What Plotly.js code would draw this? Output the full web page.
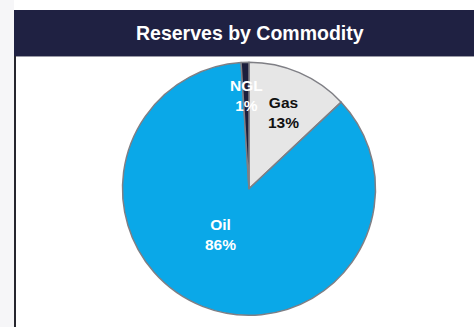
<!DOCTYPE html>
<html>
<head>
<meta charset="utf-8">
<script src="https://cdn.plot.ly/plotly-3.0.1.min.js"></script>
<style>html,body{margin:0;padding:0;background:#fff;}#chart{width:474px;height:327px;}</style>
</head>
<body>
<div id="chart"></div>
<script>
// Data
const commodities = ["Gas", "Oil", "NGL"];
const shares = [13, 86, 1];
const sliceColors = ["#e6e6e6", "#0aa8e8", "#1c1e3c"];
const labelColors = ["#111111", "#ffffff", "#ffffff"];
const chartTitle = "Reserves by Commodity";

const W = 474, H = 327;
const px = x => x / W;
const py = y => 1 - y / H;

// label anchor points (pixel positions of text centers)
const labelPos = [[283, 112], [220, 235], [246, 95]];

const annotations = [{
  text: "<b>" + chartTitle + "</b>",
  xref: "paper", yref: "paper", x: px(250), y: py(33),
  xanchor: "center", yanchor: "middle", showarrow: false,
  font: {family: "Liberation Sans, Arial", size: 19.5, color: "#ffffff"}
}];
commodities.forEach((c, i) => {
  annotations.push({
    text: "<b>" + c + "<br>" + shares[i] + "%</b>",
    xref: "paper", yref: "paper", x: px(labelPos[i][0]), y: py(labelPos[i][1]),
    xanchor: "center", yanchor: "middle", showarrow: false,
    font: {family: "Liberation Sans, Arial", size: 15.5, color: labelColors[i]}
  });
});

const trace = {
  type: "pie",
  labels: commodities,
  values: shares,
  sort: false,
  direction: "clockwise",
  rotation: 0,
  textinfo: "none",
  hoverinfo: "label+percent",
  marker: {colors: sliceColors, line: {color: "#7f7f85", width: 1.5}},
  domain: {x: [px(122.5), px(375.5)], y: [py(315.5), py(62)]},
  showlegend: false
};

const layout = {
  width: W, height: H,
  margin: {l: 0, r: 0, t: 0, b: 0},
  paper_bgcolor: "#ffffff",
  plot_bgcolor: "#ffffff",
  showlegend: false,
  shapes: [
    {type: "rect", xref: "paper", yref: "paper", x0: 0, x1: px(14), y0: 0, y1: 1, fillcolor: "#f6f6f8", line: {width: 0}, layer: "below"},
    {type: "rect", xref: "paper", yref: "paper", x0: px(14), x1: 1, y0: py(56), y1: py(10), fillcolor: "#1f2142", line: {width: 0}, layer: "below"},
    {type: "line", xref: "paper", yref: "paper", x0: px(14), x1: 1, y0: py(56.5), y1: py(56.5), line: {color: "#9a9aa6", width: 1}},
    {type: "line", xref: "paper", yref: "paper", x0: px(15), x1: px(15), y0: 0, y1: py(56), line: {color: "#26262e", width: 2}}
  ],
  annotations: annotations
};

Plotly.newPlot("chart", [trace], layout, {displayModeBar: false, staticPlot: true});
</script>
</body>
</html>
